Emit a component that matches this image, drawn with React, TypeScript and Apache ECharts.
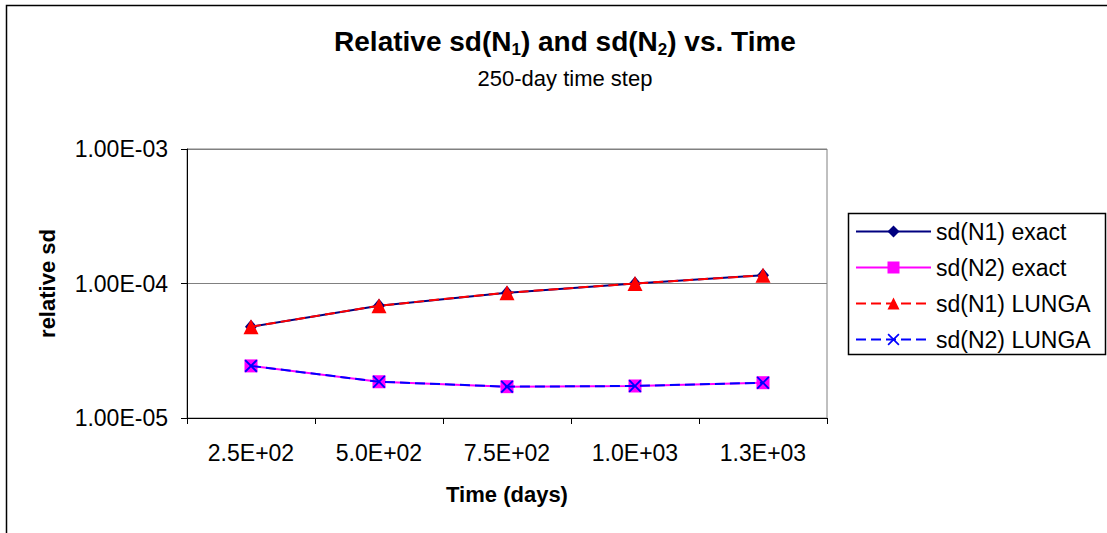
import React, { useEffect, useRef } from "react";
import * as echarts from "echarts";

// Time categories (days) shown on the x axis
const timeLabels = ["2.5E+02", "5.0E+02", "7.5E+02", "1.0E+03", "1.3E+03"];

// Relative standard deviations
const sdN1Exact = [4.77e-5, 6.84e-5, 8.54e-5, 1.0e-4, 1.15e-4];
const sdN2Exact = [2.44e-5, 1.86e-5, 1.71e-5, 1.73e-5, 1.83e-5];
const sdN1Lunga = [4.77e-5, 6.84e-5, 8.54e-5, 1.0e-4, 1.15e-4];
const sdN2Lunga = [2.44e-5, 1.86e-5, 1.71e-5, 1.73e-5, 1.83e-5];

const seriesNames = ["sd(N1) exact", "sd(N2) exact", "sd(N1) LUNGA", "sd(N2) LUNGA"];

const FONT = "'Liberation Sans', Arial, sans-serif";
const X_SYMBOL =
  "path://M1,0 L5,4 L9,0 L10,1 L6,5 L10,9 L9,10 L5,6 L1,10 L0,9 L4,5 L0,1 Z";

function sciLabel(v: number): string {
  const exp = Math.round(Math.log10(v));
  const mant = v / Math.pow(10, exp);
  const sign = exp < 0 ? "-" : "+";
  const e = String(Math.abs(exp)).padStart(2, "0");
  return `${mant.toFixed(2)}E${sign}${e}`;
}

export default function App() {
  const ref = useRef<HTMLDivElement>(null);

  useEffect(() => {
    if (!ref.current) return;
    const chart = echarts.init(ref.current, undefined, { renderer: "svg" });
    chart.setOption({
      animation: false,
      backgroundColor: "#ffffff",
      textStyle: { fontFamily: FONT },
      title: [
        {
          text: "{a|Relative sd(N}{s|1}{a|) and sd(N}{s|2}{a|) vs. Time}",
          left: 560,
          top: 19,
          textAlign: "center",
          textStyle: {
            rich: {
              a: { fontFamily: FONT, fontSize: 28, fontWeight: "bold", color: "#000", lineHeight: 34 },
              s: {
                fontFamily: FONT,
                fontSize: 17,
                fontWeight: "bold",
                color: "#000",
                lineHeight: 16,
                verticalAlign: "bottom",
              },
            },
          },
        },
        {
          text: "250-day time step",
          left: 560,
          top: 62,
          textAlign: "center",
          textStyle: { fontFamily: FONT, fontSize: 22, fontWeight: "normal", color: "#000" },
        },
      ],
      graphic: [
        {
          type: "rect",
          shape: { x: 6.5, y: 5.5, width: 1110, height: 540 },
          style: { fill: "none", stroke: "#000", lineWidth: 1.5 },
          silent: true,
        },
        {
          type: "rect",
          shape: { x: 848.5, y: 213.5, width: 257, height: 141 },
          style: { fill: "#fff", stroke: "#000", lineWidth: 1.5 },
          silent: true,
          z: 0,
        },
      ],
      legend: {
        orient: "vertical",
        left: 855,
        top: 220,
        padding: 0,
        itemWidth: 75,
        itemHeight: 15,
        itemGap: 13,
        z: 5,
        data: seriesNames,
        textStyle: { fontFamily: FONT, fontSize: 23, color: "#000" },
      },
      grid: {
        left: 187,
        top: 149,
        width: 640,
        height: 269,
        show: true,
        borderColor: "#808080",
        borderWidth: 1,
        backgroundColor: "transparent",
      },
      xAxis: {
        type: "category",
        data: timeLabels,
        boundaryGap: true,
        axisLine: { lineStyle: { color: "#000", width: 1 } },
        axisTick: { show: true, inside: false, length: 6, alignWithLabel: false, lineStyle: { color: "#000" } },
        axisLabel: { fontFamily: FONT, fontSize: 23, color: "#000", margin: 23 },
        name: "Time (days)",
        nameLocation: "middle",
        nameGap: 65,
        nameTextStyle: { fontFamily: FONT, fontSize: 22, fontWeight: "bold", color: "#000" },
        splitLine: { show: false },
      },
      yAxis: {
        type: "log",
        logBase: 10,
        min: 1e-5,
        max: 1e-3,
        axisLine: { show: true, lineStyle: { color: "#000", width: 1 } },
        axisTick: { show: true, inside: false, length: 6, lineStyle: { color: "#000" } },
        minorTick: { show: false },
        axisLabel: {
          fontFamily: FONT,
          fontSize: 23,
          color: "#000",
          margin: 19,
          formatter: (v: number) => sciLabel(v),
        },
        splitLine: { show: true, lineStyle: { color: "#808080", width: 1 } },
        name: "relative sd",
        nameLocation: "middle",
        nameGap: 129,
        nameTextStyle: { fontFamily: FONT, fontSize: 22, fontWeight: "bold", color: "#000" },
      },
      series: [
        {
          name: seriesNames[0],
          type: "line",
          data: sdN1Exact,
          symbol: "diamond",
          symbolSize: [12, 14],
          itemStyle: { color: "#000080" },
          lineStyle: { color: "#000080", width: 2, type: "solid" },
          z: 2,
        },
        {
          name: seriesNames[1],
          type: "line",
          data: sdN2Exact,
          symbol: "rect",
          symbolSize: 13,
          itemStyle: { color: "#FF00FF" },
          lineStyle: { color: "#FF00FF", width: 2, type: "solid" },
          z: 2,
        },
        {
          name: seriesNames[2],
          type: "line",
          data: sdN1Lunga,
          symbol: "triangle",
          symbolSize: 15,
          itemStyle: { color: "#FF0000" },
          lineStyle: { color: "#FF0000", width: 2, type: [10, 5] },
          z: 3,
        },
        {
          name: seriesNames[3],
          type: "line",
          data: sdN2Lunga,
          symbol: X_SYMBOL,
          symbolSize: 13,
          itemStyle: { color: "#0000FF" },
          lineStyle: { color: "#0000FF", width: 2, type: [10, 5] },
          z: 3,
        },
      ],
    });
    return () => chart.dispose();
  }, []);

  return (
    <div
      ref={ref}
      style={{ position: "fixed", left: 0, top: 0, width: 1107, height: 533 }}
    />
  );
}
